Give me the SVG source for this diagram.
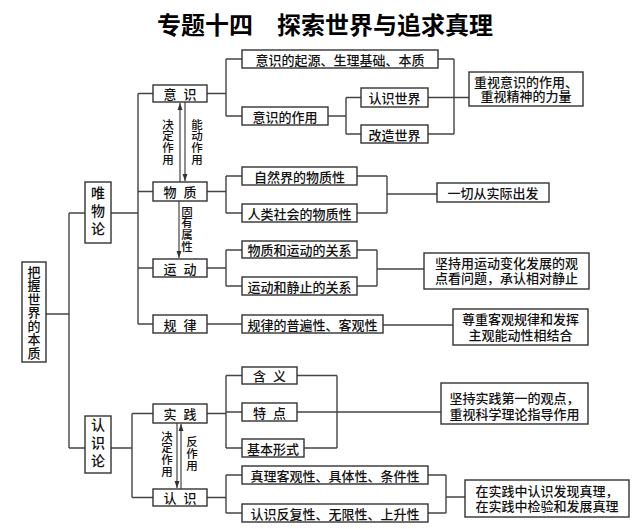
<svg xmlns="http://www.w3.org/2000/svg" width="640" height="529" viewBox="0 0 640 529">
<style>
  .box{fill:#fff;stroke:#333;stroke-width:1.4}
  .t{font-family:"Noto Sans CJK SC","Noto Sans CJK JP",sans-serif;font-size:13px;fill:#111;text-anchor:middle;dominant-baseline:central;font-weight:500}
  .t2{font-family:"Liberation Sans","Noto Sans CJK SC",sans-serif;font-size:13px;fill:#111;text-anchor:middle;dominant-baseline:central;font-weight:500}
  .vt{font-family:"Noto Sans CJK SC","Noto Sans CJK JP",sans-serif;fill:#111;text-anchor:middle;writing-mode:vertical-rl;font-weight:500}
  .v{font-size:11.5px;letter-spacing:0.3px}
  .vb{font-size:14px;letter-spacing:4px}
  .vr{font-size:13px;letter-spacing:0.5px}
  .ln{fill:none;stroke:#444;stroke-width:1.4}
  .ar{fill:none;stroke:#444;stroke-width:1.2}
  .sp{letter-spacing:7px}
</style>
<defs>
  <marker id="ah" markerWidth="8" markerHeight="8" refX="7" refY="4" orient="auto" markerUnits="userSpaceOnUse">
    <path d="M0,1.5 L7,4 L0,6.5 Z" fill="#333"/>
  </marker>
</defs>
<rect width="640" height="529" fill="#fff"/>
<text x="325" y="23" font-family="Noto Sans CJK SC, sans-serif" font-size="24" font-weight="bold" text-anchor="middle" dominant-baseline="central" fill="#000">专题十四　探索世界与追求真理</text>

<g id="connectors">
  <path class="ln" d="M46,314 H69 M69,213 V448 M69,213 H85 M69,448 H85"/>
  <path class="ln" d="M111,213 H138 M138,93.5 V324 M138,93.5 H153 M138,191.5 H153 M138,268 H153 M138,324 H153"/>
  <path class="ln" d="M111,448 H132 M132,413.5 V497.5 M132,413.5 H153 M132,497.5 H153"/>
  <path class="ln" d="M207,93.5 H226 M226,59 V116 M226,59 H242 M226,116 H242"/>
  <path class="ln" d="M328,116 H346 M346,97.5 V134 M346,97.5 H361 M346,134 H361"/>
  <path class="ln" d="M438,59 H454 M428,97.5 H454 M428,134 H454 M454,59 V134 M454,97.5 H469"/>
  <path class="ln" d="M207,191.5 H226 M226,176 V213 M226,176 H242 M226,213 H242"/>
  <path class="ln" d="M357,176 H387 M357,213 H387 M387,176 V213 M387,194 H437"/>
  <path class="ln" d="M207,268 H226 M226,250 V286 M226,250 H242 M226,286 H242"/>
  <path class="ln" d="M357,250 H377 M357,286 H377 M377,250 V286 M377,269 H424"/>
  <path class="ln" d="M207,324 H242 M383,325 H453"/>
  <path class="ln" d="M207,413.5 H226 M226,375.5 V448 M226,375.5 H242 M226,412 H242 M226,448 H242"/>
  <path class="ln" d="M297,375.5 H337 M304,448 H337 M337,375.5 V448 M297,412 H441"/>
  <path class="ln" d="M207,497.5 H226 M226,475 V513 M226,475 H242 M226,513 H242"/>
  <path class="ln" d="M428,475 H446 M428,513 H446 M446,475 V513 M446,497 H465"/>
  <!-- arrows -->
  <line class="ar" x1="180" y1="182" x2="180" y2="103" marker-end="url(#ah)"/>
  <line class="ar" x1="185" y1="102" x2="185" y2="181" marker-end="url(#ah)"/>
  <line class="ar" x1="179" y1="201" x2="179" y2="258" marker-end="url(#ah)"/>
  <line class="ar" x1="177" y1="423" x2="177" y2="488" marker-end="url(#ah)"/>
  <line class="ar" x1="181" y1="489" x2="181" y2="424" marker-end="url(#ah)"/>
  <!-- arrow labels -->
  <text class="vt v" x="168" y="142">决定作用</text>
  <text class="vt v" x="197" y="142">能动作用</text>
  <text class="vt v" x="187" y="229">固有属性</text>
  <text class="vt v" x="167" y="454">决定作用</text>
  <text class="vt v" x="192" y="454">反作用</text>
</g>

<g id="n-root"><rect class="box" x="22" y="262" width="24" height="100"/>
  <text class="vt vr" x="34" y="312.5">把握世界的本质</text></g>
<g id="n-wwl"><rect class="box" x="85" y="182" width="26" height="61"/>
  <text class="vt vb" x="98" y="212.5">唯物论</text></g>
<g id="n-rsl"><rect class="box" x="85" y="416" width="26" height="57"/>
  <text class="vt vb" x="98" y="444.5">认识论</text></g>

<g id="n-ys"><rect class="box" x="153" y="85" width="54" height="17"/><text class="t sp" x="183.5" y="93.5">意识</text></g>
<g id="n-wz"><rect class="box" x="153" y="182" width="54" height="19"/><text class="t sp" x="183.5" y="191.5">物质</text></g>
<g id="n-yd"><rect class="box" x="153" y="259" width="54" height="18"/><text class="t sp" x="183.5" y="268">运动</text></g>
<g id="n-gl"><rect class="box" x="153" y="315" width="54" height="18"/><text class="t sp" x="183.5" y="324">规律</text></g>
<g id="n-sj"><rect class="box" x="153" y="404" width="54" height="19"/><text class="t sp" x="183.5" y="413.5">实践</text></g>
<g id="n-rs"><rect class="box" x="153" y="489" width="54" height="17"/><text class="t sp" x="183.5" y="497.5">认识</text></g>

<g id="n-ys1"><rect class="box" x="242" y="50" width="196" height="18"/><text class="t" x="340" y="59">意识的起源、生理基础、本质</text></g>
<g id="n-ys2"><rect class="box" x="242" y="107" width="86" height="18"/><text class="t" x="285" y="116">意识的作用</text></g>
<g id="n-rssj"><rect class="box" x="361" y="88" width="67" height="19"/><text class="t" x="394.5" y="97.5">认识世界</text></g>
<g id="n-gzsj"><rect class="box" x="361" y="125" width="67" height="18"/><text class="t" x="394.5" y="134">改造世界</text></g>
<g id="n-zsys"><rect class="box" x="469" y="72" width="114" height="34"/>
  <text class="t2" x="526" y="82">重视意识的作用、</text><text class="t2" x="526" y="96.5">重视精神的力量</text></g>

<g id="n-zrj"><rect class="box" x="242" y="167" width="115" height="18"/><text class="t" x="299.5" y="176">自然界的物质性</text></g>
<g id="n-rlsh"><rect class="box" x="242" y="204" width="115" height="18"/><text class="t" x="299.5" y="213">人类社会的物质性</text></g>
<g id="n-yq"><rect class="box" x="437" y="183" width="112" height="19"/><text class="t" x="493" y="192.5">一切从实际出发</text></g>

<g id="n-wzyd"><rect class="box" x="242" y="241" width="115" height="17"/><text class="t" x="299.5" y="249.5">物质和运动的关系</text></g>
<g id="n-ydjz"><rect class="box" x="242" y="277" width="115" height="18"/><text class="t" x="299.5" y="286">运动和静止的关系</text></g>
<g id="n-jcyd"><rect class="box" x="424" y="253" width="165" height="36"/>
  <text class="t2" x="506.5" y="263.5">坚持用运动变化发展的观</text><text class="t2" x="506.5" y="278.5">点看问题，承认相对静止</text></g>

<g id="n-glpb"><rect class="box" x="242" y="315" width="141" height="18"/><text class="t" x="312.5" y="324">规律的普遍性、客观性</text></g>
<g id="n-zz"><rect class="box" x="453" y="309" width="135" height="36"/>
  <text class="t2" x="520.5" y="319">尊重客观规律和发挥</text><text class="t2" x="520.5" y="335">主观能动性相结合</text></g>

<g id="n-hy"><rect class="box" x="242" y="367" width="55" height="17"/><text class="t sp" x="273" y="375.5">含义</text></g>
<g id="n-td"><rect class="box" x="242" y="403" width="55" height="18"/><text class="t sp" x="273" y="412">特点</text></g>
<g id="n-jbxs"><rect class="box" x="242" y="439" width="62" height="18"/><text class="t" x="273" y="448">基本形式</text></g>
<g id="n-jcsj"><rect class="box" x="441" y="383" width="147" height="41"/>
  <text class="t2" x="514.5" y="398">坚持实践第一的观点，</text><text class="t2" x="514.5" y="414">重视科学理论指导作用</text></g>

<g id="n-zl"><rect class="box" x="242" y="466" width="186" height="18"/><text class="t" x="335" y="475">真理客观性、具体性、条件性</text></g>
<g id="n-rsff"><rect class="box" x="242" y="504" width="186" height="18"/><text class="t" x="335" y="513">认识反复性、无限性、上升性</text></g>
<g id="n-zsj"><rect class="box" x="465" y="480" width="164" height="37"/>
  <text class="t2" x="547" y="491">在实践中认识发现真理，</text><text class="t2" x="547" y="506.5">在实践中检验和发展真理</text></g>
</svg>
